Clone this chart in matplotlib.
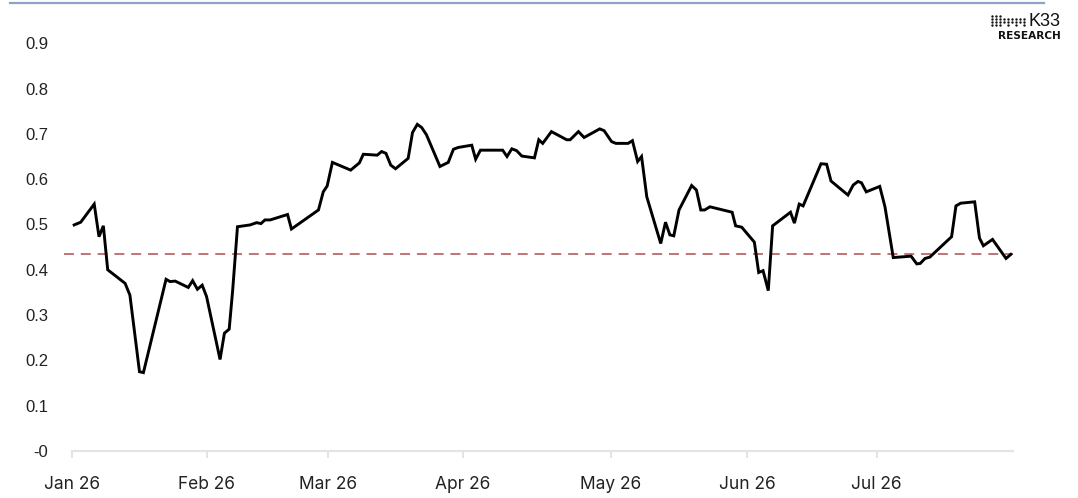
"""Recreate the K33 Research ratio chart (Jan-Jul 2026) as out.png."""

import numpy as np
import matplotlib
matplotlib.use("Agg")
import matplotlib.pyplot as plt

# observation index (ordinal axis, one unit per session) and value at each vertex
obs = [0.5, 2.0, 5.1, 6.2, 7.2, 8.2, 12.2, 13.3, 15.5, 16.4, 21.6, 22.5, 23.7, 26.7, 27.7,
       28.8, 29.9, 30.9, 34.0, 35.0, 36.1, 36.9, 38.0, 40.9, 42.4, 43.4, 44.3, 45.5, 49.5,
       50.4, 56.6, 57.7, 58.6, 59.8, 64.0, 66.0, 66.9, 70.1, 71.1, 72.1, 73.2, 74.3, 77.2,
       78.2, 79.3, 80.3, 81.4, 84.5, 86.4, 87.6, 88.7, 91.8, 92.7, 93.8, 98.9, 99.9, 101.0,
       102.1, 103.3, 106.2, 107.2, 108.1, 110.1, 113.6, 114.4, 116.3, 117.6, 121.2, 122.2,
       123.9, 124.9, 127.7, 128.7, 129.9, 130.8, 132.0, 135.2, 136.3, 137.3, 138.2, 139.4,
       142.3, 143.4, 144.4, 145.3, 146.5, 151.6, 152.4, 153.8, 156.7, 157.7, 158.7, 159.9,
       160.9, 165.0, 165.9, 167.0, 167.9, 172.0, 173.3, 174.3, 176.3, 178.2, 179.4, 180.5,
       181.3, 182.4, 185.5, 186.7, 188.6, 192.7, 194.0, 194.8, 195.9, 197.0, 202.0, 203.0,
       204.1, 207.3, 208.4, 209.3, 211.4, 214.5, 215.6]
vals = [0.499, 0.505, 0.545, 0.473, 0.497, 0.400, 0.370, 0.344, 0.175, 0.173, 0.379, 0.374,
        0.375, 0.361, 0.376, 0.357, 0.366, 0.341, 0.202, 0.260, 0.269, 0.355, 0.495, 0.499,
        0.504, 0.502, 0.510, 0.510, 0.522, 0.490, 0.532, 0.572, 0.585, 0.637, 0.620, 0.636,
        0.655, 0.653, 0.661, 0.657, 0.631, 0.623, 0.646, 0.703, 0.721, 0.714, 0.698, 0.628,
        0.637, 0.666, 0.670, 0.675, 0.644, 0.664, 0.664, 0.650, 0.667, 0.663, 0.651, 0.647,
        0.687, 0.679, 0.705, 0.687, 0.687, 0.705, 0.692, 0.711, 0.707, 0.683, 0.679, 0.679,
        0.685, 0.639, 0.650, 0.561, 0.458, 0.505, 0.477, 0.475, 0.532, 0.586, 0.576, 0.532,
        0.532, 0.539, 0.527, 0.497, 0.494, 0.461, 0.394, 0.398, 0.354, 0.497, 0.527, 0.503,
        0.545, 0.541, 0.634, 0.633, 0.596, 0.580, 0.565, 0.587, 0.595, 0.592, 0.572, 0.584,
        0.539, 0.427, 0.430, 0.413, 0.414, 0.425, 0.428, 0.473, 0.541, 0.547, 0.550, 0.470,
        0.453, 0.467, 0.425, 0.434]

median_level = 0.435
month_starts = [0, 31, 58.8, 89.8, 123.8, 155, 184.8]
month_labels = ["Jan 26", "Feb 26", "Mar 26", "Apr 26", "May 26", "Jun 26", "Jul 26"]
x_end = 216.1
y_ticks = [0, 0.1, 0.2, 0.3, 0.4, 0.5, 0.6, 0.7, 0.8, 0.9]
y_labels = ["-0", "0.1", "0.2", "0.3", "0.4", "0.5", "0.6", "0.7", "0.8", "0.9"]

W, H = 1078, 498
fig = plt.figure(figsize=(W / 100, H / 100), dpi=100)
ax = fig.add_axes([72 / W, (H - 451) / H, (1013 - 72) / W, 430.4 / H])

ax.plot(obs, vals, color="black", lw=2.1, solid_joinstyle="miter", zorder=3)
ax.axhline(median_level, xmin=-0.008, xmax=1, color="#ad4e4b", lw=1.1,
           dashes=(6.5, 4.5), clip_on=False, zorder=2)

ax.set_xlim(0, x_end)
ax.set_ylim(0, 0.95)

for side in ("top", "right", "left"):
    ax.spines[side].set_visible(False)
ax.spines["bottom"].set_color("#e3e4e8")
ax.spines["bottom"].set_linewidth(1.6)

ax.set_xticks(month_starts)
ax.set_xticklabels(month_labels, family="Inter", fontsize=12.5, color="#222222")
ax.tick_params(axis="x", length=5, width=1.4, color="#e3e4e8", pad=13)
ax.set_yticks(y_ticks)
ax.set_yticklabels(y_labels, family="Liberation Sans", fontsize=12, color="#222222")
ax.tick_params(axis="y", length=0, pad=17)

# thin rule across the top
fig.add_artist(plt.Line2D([10 / W, 1044 / W], [1 - 3 / H, 1 - 3 / H],
                          color="#8ba3c4", lw=1.6))

# K33 Research logo
fig.text(1061 / W, 1 - 21 / H, "K33", ha="right", va="center", family="Liberation Sans",
         fontsize=13, color="#111111")
fig.text(1061 / W, 1 - 36 / H, "RESEARCH", ha="right", va="center", family="DejaVu Sans",
         fontsize=7.6, fontweight="bold", color="#111111")
lax = fig.add_axes([990 / W, 1 - 27 / H, 36 / W, 12 / H])
lax.axis("off")
for c in range(9):
    if c < 3:
        rows = [0, 1, 2, 3]
    elif c % 2:
        rows = [1, 2]
    else:
        rows = [0, 1, 2]
    lax.scatter([c] * len(rows), rows, s=3, color="#111111", linewidths=0)
lax.set_xlim(-0.5, 8.5)
lax.set_ylim(-0.5, 3.5)

fig.savefig("out.png", dpi=100)
